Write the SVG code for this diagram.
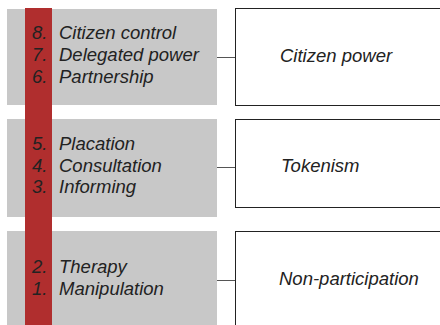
<svg xmlns="http://www.w3.org/2000/svg" width="440" height="325" viewBox="0 0 440 325">
<style>
.g{fill:#c8c8c8}
.w{fill:#fff;stroke:#222;stroke-width:1}
.t{font-family:"Liberation Sans",Arial,sans-serif;font-size:18.5px;font-style:italic;fill:#222}
.c{stroke:#555;stroke-width:1;fill:none}
</style>
<rect width="440" height="325" fill="#fff"/>
<g id="ladder-top"><rect class="g" x="7" y="9" width="210" height="96"/></g>
<g id="ladder-mid"><rect class="g" x="7" y="119" width="210" height="98"/></g>
<g id="ladder-bot"><rect class="g" x="7" y="231" width="210" height="100"/></g>
<rect x="25" y="8" width="27" height="320" fill="#b02e2e"/>
<g id="items-top" class="t">
<text x="32" y="39">8.</text><text x="59" y="39">Citizen control</text>
<text x="32" y="61">7.</text><text x="59" y="61">Delegated power</text>
<text x="32" y="83">6.</text><text x="59" y="83">Partnership</text>
</g>
<g id="items-mid" class="t">
<text x="32" y="150">5.</text><text x="59" y="150">Placation</text>
<text x="32" y="172">4.</text><text x="59" y="172">Consultation</text>
<text x="32" y="193">3.</text><text x="59" y="193">Informing</text>
</g>
<g id="items-bot" class="t">
<text x="32" y="273">2.</text><text x="59" y="273">Therapy</text>
<text x="32" y="295">1.</text><text x="59" y="295">Manipulation</text>
</g>
<g id="connectors">
<line class="c" x1="217" y1="57.5" x2="235" y2="57.5"/>
<line class="c" x1="217" y1="167.5" x2="235" y2="167.5"/>
<line class="c" x1="217" y1="280.5" x2="235" y2="280.5"/>
</g>
<g id="citizen-power"><rect class="w" x="235.5" y="8.5" width="210" height="97"/><text class="t" x="280" y="62">Citizen power</text></g>
<g id="tokenism"><rect class="w" x="235.5" y="119.5" width="210" height="88"/><text class="t" x="281" y="172">Tokenism</text></g>
<g id="non-participation"><rect class="w" x="235.5" y="231.5" width="210" height="100"/><text class="t" x="279" y="285">Non-participation</text></g>
</svg>
